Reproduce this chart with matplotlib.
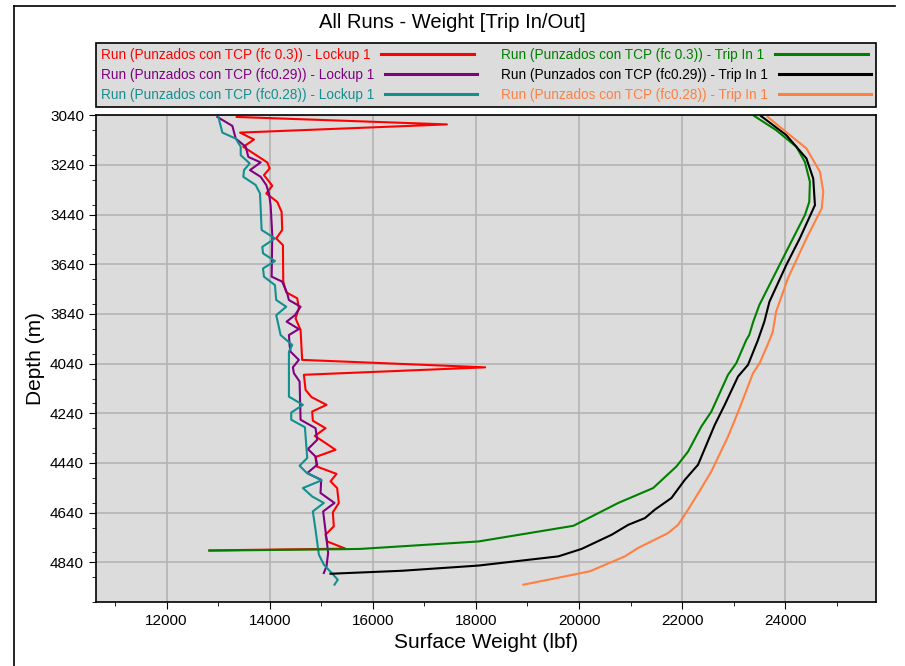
import matplotlib
matplotlib.use('Agg')
import matplotlib.pyplot as plt
from matplotlib import font_manager
from matplotlib.lines import Line2D
from matplotlib.ticker import MultipleLocator

# --- data (weight lbf, depth m) ---
red_w = [13361, 17437, 13425, 13696, 13489, 13953, 14000, 13889, 14050, 13934,
         14147, 14231, 14243, 14127, 14257, 14263, 14321, 14534, 14566, 14502,
         14599, 14630, 18180, 14663, 14696, 14812, 15102, 14824, 14837, 15083,
         14876, 15277, 14889, 14909, 15296, 15180, 15308, 15341, 15225, 15244,
         15083, 15115, 15470, 12830]
red_d = [3047, 3077, 3110, 3138, 3167, 3230, 3254, 3281, 3324, 3355,
         3389, 3429, 3502, 3536, 3563, 3710, 3753, 3777, 3817, 3858,
         3905, 4025, 4055, 4085, 4146, 4175, 4206, 4233, 4270, 4300,
         4331, 4387, 4416, 4454, 4484, 4514, 4541, 4601, 4639, 4695,
         4729, 4756, 4785, 4792]

purple_w = [12985, 13276, 13341, 13535, 13586, 13825, 13618, 13825, 13934, 13986,
            14018, 14050, 14038, 14243, 14340, 14373, 14599, 14489, 14328, 14566,
            14373, 14386, 14405, 14566, 14450, 14470, 14580, 14599, 14889, 14921,
            14741, 14889, 14921, 14728, 14999, 14986, 15257, 15037, 15134, 15102,
            15050]
purple_d = [3047, 3083, 3134, 3167, 3208, 3230, 3261, 3288, 3321, 3355,
            3402, 3523, 3690, 3710, 3757, 3784, 3811, 3845, 3871, 3901,
            3925, 3965, 3992, 4025, 4055, 4079, 4112, 4266, 4300, 4347,
            4384, 4414, 4447, 4481, 4508, 4561, 4601, 4635, 4802, 4856,
            4883]

teal_w = [13005, 13082, 13341, 13438, 13438, 13612, 13502, 13489, 13728, 13812,
          13844, 14102, 13857, 13870, 14102, 13870, 13889, 14102, 14127, 14321,
          14127, 14212, 14437, 14373, 14373, 14644, 14418, 14418, 14683, 14728,
          14580, 14708, 15006, 14644, 14824, 15050, 14837, 14889, 14954, 15050,
          15321, 15257]
teal_d = [3047, 3110, 3134, 3167, 3201, 3234, 3261, 3288, 3321, 3355,
          3502, 3536, 3570, 3596, 3627, 3657, 3690, 3724, 3784, 3811,
          3845, 3925, 3965, 3992, 4173, 4206, 4237, 4266, 4296, 4420,
          4451, 4478, 4510, 4541, 4575, 4601, 4635, 4709, 4809, 4849,
          4910, 4930]

green_w = [12830, 15470, 15760, 18050, 19890, 20760, 21437, 21889, 22115, 22373,
           22566, 22889, 23050, 23243, 23300, 23379, 23497, 23822, 24149, 24380,
           24465, 24477, 24380, 24215, 23822, 23398]
green_d = [4793, 4787, 4786, 4756, 4693, 4601, 4541, 4454, 4394, 4293,
           4233, 4085, 4038, 3945, 3925, 3871, 3804, 3670, 3536, 3442,
           3389, 3308, 3228, 3167, 3100, 3043]

black_w = [15180, 16566, 18051, 19599, 20050, 20632, 20954, 21277, 21470, 21792,
           22051, 22308, 22631, 22825, 23083, 23277, 23470, 23594, 23692, 24019,
           24281, 24575, 24542, 24410, 24019, 23528]
black_d = [4886, 4874, 4853, 4816, 4786, 4729, 4689, 4662, 4628, 4581,
           4508, 4447, 4287, 4206, 4092, 4045, 3945, 3871, 3791, 3643,
           3536, 3402, 3295, 3214, 3120, 3043]

orange_w = [18920, 19599, 20212, 20889, 21147, 21728, 21921, 22115, 22373, 22566,
            22889, 23115, 23373, 23503, 23696, 23758, 23822, 24050, 24410, 24707,
            24737, 24673, 24410, 23659]
orange_d = [4930, 4902, 4876, 4816, 4782, 4722, 4689, 4628, 4541, 4474,
            4334, 4219, 4079, 4038, 3945, 3911, 3831, 3697, 3536, 3415,
            3348, 3268, 3174, 3047]

labels = ['Run (Punzados con TCP (fc 0.3)) - Lockup 1',
          'Run (Punzados con TCP (fc0.29)) - Lockup 1',
          'Run (Punzados con TCP (fc0.28)) - Lockup 1',
          'Run (Punzados con TCP (fc 0.3)) - Trip In 1',
          'Run (Punzados con TCP (fc0.29)) - Trip In 1',
          'Run (Punzados con TCP (fc0.28)) - Trip In 1']
colors = ['#ff0000', '#800080', '#11908f', '#008000', '#000000', '#ff8040']

xticks = list(range(12000, 24001, 2000))
yticks = list(range(3040, 4841, 200))

# narrow font like the original if we have it
names = set(f.name for f in font_manager.fontManager.ttflist)
fam = 'Liberation Sans Narrow' if 'Liberation Sans Narrow' in names else 'Liberation Sans'
plt.rcParams['font.family'] = [fam, 'DejaVu Sans']

fig = plt.figure(figsize=(9.05, 6.66), dpi=100)
ax = fig.add_axes([0.106, 0.096, 0.862, 0.731])
ax.set_facecolor('#dcdcdc')

lw = 1.5
series = [(red_w, red_d), (purple_w, purple_d), (teal_w, teal_d),
          (green_w, green_d), (black_w, black_d), (orange_w, orange_d)]
for (w, d), c in zip(series, colors):
    ax.plot(w, d, color=c, lw=lw)

ax.set_xlim(10630, 25760)
ax.set_ylim(5000, 3040)
ax.set_xticks(xticks)
ax.set_yticks(yticks)
ax.xaxis.set_minor_locator(MultipleLocator(1000))
ax.yaxis.set_minor_locator(MultipleLocator(100))
ax.tick_params(which='major', length=5, labelsize=11, direction='out')
ax.tick_params(which='minor', length=3)
ax.grid(True, which='major', color='#b4b4b4', lw=1.2)
ax.set_axisbelow(True)
for s in ax.spines.values():
    s.set_linewidth(1.2)

ax.set_xlabel('Surface Weight (lbf)', fontsize=15)
ax.set_ylabel('Depth (m)', fontsize=15)
fig.text(0.5, 1 - 22 / 666, 'All Runs - Weight [Trip In/Out]', fontsize=14.5,
         ha='center', va='center')

handles = [Line2D([], [], color=c, lw=2.2) for c in colors]
leg = ax.legend(handles, labels, ncol=2, mode='expand', markerfirst=False,
                bbox_to_anchor=(0, 1.017, 1, 0.131), loc='lower left',
                borderaxespad=0, fontsize=9.8, handlelength=6.8,
                labelcolor='linecolor', fancybox=False, framealpha=1,
                facecolor='#dcdcdc', edgecolor='black', labelspacing=0.45,
                borderpad=0.35, columnspacing=1.0)
leg.get_frame().set_linewidth(1.2)
# text left aligned in each column, like the original
try:
    for col in leg._legend_handle_box.get_children():
        col.align = 'left'
except AttributeError:
    pass

# outer frame lines
fig.add_artist(Line2D([14 / 905, 895 / 905], [1 - 6 / 666, 1 - 6 / 666],
                      color='black', lw=1.2))
fig.add_artist(Line2D([14 / 905, 14 / 905], [0, 1 - 6 / 666],
                      color='black', lw=1.2))

fig.savefig('out.png', dpi=100)
